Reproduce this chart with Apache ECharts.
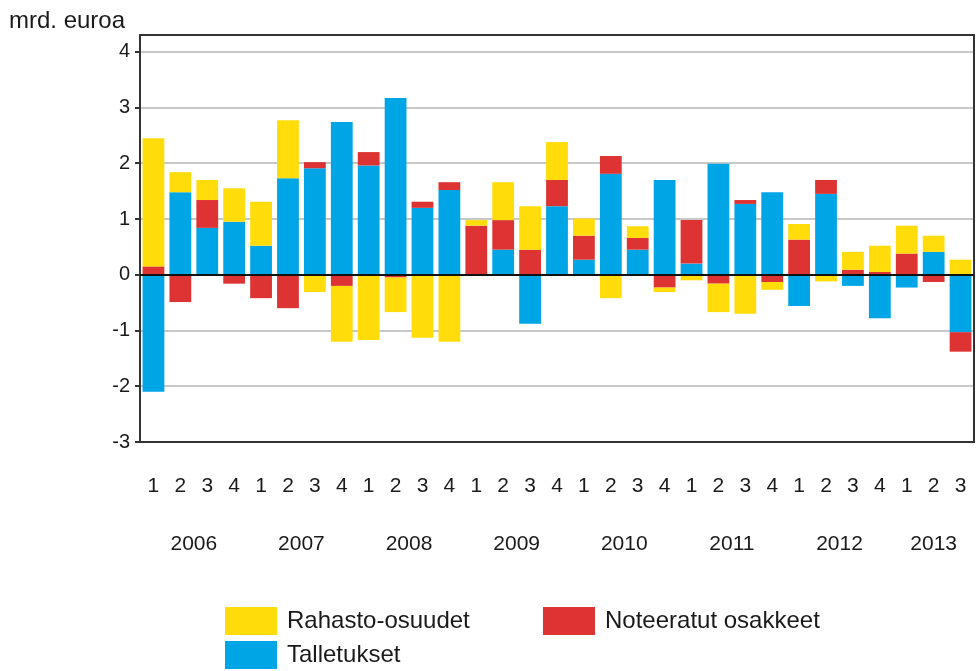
<!DOCTYPE html>
<html>
<head>
<meta charset="utf-8">
<script src="https://cdn.jsdelivr.net/npm/echarts@6/dist/echarts.min.js"></script>
<style>
html,body{margin:0;padding:0;background:#fff;}
#chart{width:976px;height:671px;}
</style>
</head>
<body>
<div id="chart"></div>
<script>
// ---- data ----
var years = ['2006','2007','2008','2009','2010','2011','2012','2013'];
var quartersPerYear = [4,4,4,4,4,4,4,3];
var quarterLabels = ['1','2','3','4','1','2','3','4','1','2','3','4','1','2','3','4',
                     '1','2','3','4','1','2','3','4','1','2','3','4','1','2','3'];
var talletukset = [-2.10, 1.48, 0.84, 0.95, 0.52, 1.73, 1.91, 2.74, 1.96, 3.17, 1.20, 1.52,
                   -0.02, 0.45, -0.88, 1.23, 0.27, 1.81, 0.45, 1.70, 0.20, 1.99, 1.27, 1.48,
                   -0.56, 1.45, -0.20, -0.78, -0.23, 0.41, -1.03];
var noteeratut = [0.15, -0.49, 0.50, -0.16, -0.42, -0.60, 0.11, -0.20, 0.24, -0.05, 0.11, 0.14,
                  0.88, 0.53, 0.45, 0.47, 0.43, 0.32, 0.21, -0.23, 0.78, -0.16, 0.07, -0.13,
                  0.63, 0.25, 0.09, 0.05, 0.38, -0.13, -0.35];
var rahasto = [2.30, 0.36, 0.36, 0.60, 0.79, 1.04, -0.31, -1.00, -1.17, -0.62, -1.13, -1.20,
               0.10, 0.68, 0.78, 0.68, 0.31, -0.42, 0.21, -0.08, -0.10, -0.51, -0.70, -0.14,
               0.28, -0.12, 0.32, 0.47, 0.50, 0.29, 0.27];
var yTicks = [-3,-2,-1,0,1,2,3,4];
var yMin = -3, yMax = 4.3;

// category keys (unique) for the quarter axis
var cats = [];
var yearCenters = [];
(function(){
  var idx = 0;
  for (var y = 0; y < years.length; y++) {
    var start = idx;
    for (var q = 0; q < quartersPerYear[y]; q++) { cats.push(years[y] + 'Q' + quarterLabels[idx]); idx++; }
    yearCenters.push((start + idx - 1) / 2 + 0.5);
  }
})();

var FONT = '"Liberation Sans", Arial, sans-serif';
var TXT = '#1a1a1a';
var COLORS = {blue:'#00A5E6', red:'#DD3333', yellow:'#FFDC0A'};

var legendBase = {
  orient: 'vertical', padding: 0,
  itemWidth: 52, itemHeight: 28, itemGap: 6, icon: 'rect',
  textStyle: {fontFamily: FONT, fontSize: 24, color: TXT, padding: [6,0,0,5]}
};

var chart = echarts.init(document.getElementById('chart'), null, {renderer:'canvas'});
var option = {
  animation: false,
  backgroundColor: '#fff',
  textStyle: {fontFamily: FONT},
  title: {
    text: 'mrd. euroa', left: 9, top: 9, padding: 0,
    textStyle: {fontFamily: FONT, fontSize: 24, fontWeight: 'normal', color: TXT}
  },
  grid: {left: 140, right: 2, top: 35, bottom: 229, containLabel: false},
  legend: [
    Object.assign({}, legendBase, {data: ['Rahasto-osuudet', 'Talletukset'], left: 225, top: 607}),
    Object.assign({}, legendBase, {data: ['Noteeratut osakkeet'], left: 543, top: 607})
  ],
  xAxis: [
    {
      type: 'category', data: cats, position: 'bottom',
      axisLine: {onZero: false, lineStyle: {color: '#333', width: 2}},
      axisTick: {show: false},
      axisLabel: {
        margin: 34, fontFamily: FONT, fontSize: 21, color: TXT,
        formatter: function(v, i){ return quarterLabels[i]; }
      },
      splitLine: {show: false}
    },
    {
      type: 'value', min: 0, max: cats.length, position: 'bottom',
      axisLine: {show: false}, axisTick: {show: false}, splitLine: {show: false},
      axisLabel: {
        margin: 92, fontFamily: FONT, fontSize: 21, color: TXT,
        customValues: yearCenters,
        formatter: function(v){
          for (var k = 0; k < yearCenters.length; k++) if (Math.abs(yearCenters[k]-v) < 1e-6) return years[k];
          return '';
        }
      }
    },
    {
      type: 'category', data: cats, position: 'top',
      axisLine: {show: true, onZero: false, lineStyle: {color: '#333', width: 2}},
      axisTick: {show: false}, axisLabel: {show: false}, splitLine: {show: false}
    }
  ],
  yAxis: [
    {
      type: 'value', min: yMin, max: yMax, interval: 1, position: 'left',
      axisLine: {show: true, onZero: false, lineStyle: {color: '#333', width: 2}},
      axisTick: {show: true, length: 5, inside: false, customValues: yTicks, lineStyle: {color: '#333', width: 2}},
      axisLabel: {
        margin: 10, fontFamily: FONT, fontSize: 20, color: TXT,
        customValues: yTicks,
        formatter: function(v){ return Number.isInteger(v) ? String(v) : ''; }
      },
      splitLine: {show: true, lineStyle: {color: '#c8c8c8', width: 2}}
    },
    {
      type: 'value', min: yMin, max: yMax, interval: 1, position: 'right',
      axisLine: {show: true, onZero: false, lineStyle: {color: '#333', width: 2}},
      axisTick: {show: false}, axisLabel: {show: false}, splitLine: {show: false}
    }
  ],
  series: [
    {
      name: 'Talletukset', type: 'bar', stack: 'total', data: talletukset,
      xAxisIndex: 0, yAxisIndex: 0, barCategoryGap: '19%',
      itemStyle: {color: COLORS.blue},
      markLine: {
        silent: true, symbol: 'none', z: 10,
        label: {show: false},
        lineStyle: {color: '#111', width: 2, type: 'solid'},
        data: [{yAxis: 0}]
      }
    },
    {
      name: 'Noteeratut osakkeet', type: 'bar', stack: 'total', data: noteeratut,
      xAxisIndex: 0, yAxisIndex: 0, barCategoryGap: '19%',
      itemStyle: {color: COLORS.red}
    },
    {
      name: 'Rahasto-osuudet', type: 'bar', stack: 'total', data: rahasto,
      xAxisIndex: 0, yAxisIndex: 0, barCategoryGap: '19%',
      itemStyle: {color: COLORS.yellow}
    }
  ]
};
chart.setOption(option);
</script>
</body>
</html>
